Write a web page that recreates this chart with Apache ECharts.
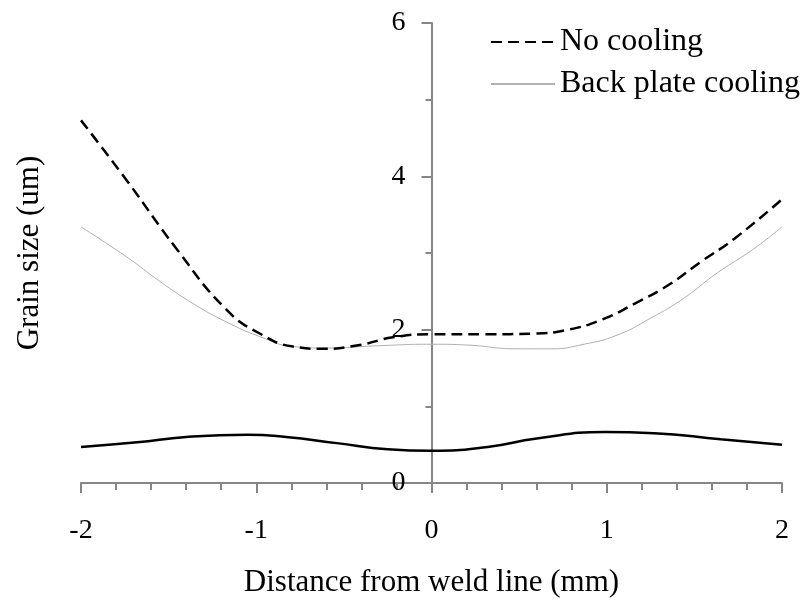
<!DOCTYPE html>
<html>
<head>
<meta charset="utf-8">
<script src="https://cdn.jsdelivr.net/npm/echarts@6/dist/echarts.min.js"></script>
<style>
  html, body { margin: 0; padding: 0; background: #fff; }
  #chart { width: 806px; height: 608px; }
</style>
</head>
<body>
<div id="chart"></div>
<script>
// Grain size profiles across the weld line
const xNoCooling = [-2, -1.74, -1.45, -1.17, -0.98, -0.79, -0.62, -0.41, -0.22, 0, 0.3, 0.59, 0.78, 0.97, 1.16, 1.35, 1.54, 1.73, 2];
const yNoCooling = [4.73, 3.95, 3.04, 2.26, 1.95, 1.78, 1.75, 1.80, 1.90, 1.94, 1.94, 1.95, 2.0, 2.13, 2.34, 2.58, 2.89, 3.19, 3.70];

const xBackPlate = [-2, -1.74, -1.55, -1.36, -1.17, -0.98, -0.79, -0.6, -0.31, 0, 0.2, 0.49, 0.68, 0.87, 1.06, 1.25, 1.44, 1.63, 1.83, 2];
const yBackPlate = [3.34, 2.95, 2.63, 2.34, 2.10, 1.91, 1.78, 1.76, 1.79, 1.81, 1.80, 1.75, 1.75, 1.81, 1.93, 2.15, 2.41, 2.74, 3.04, 3.34];

const xThird = [-2, -1.68, -1.4, -1.05, -0.83, -0.54, -0.25, 0, 0.32, 0.6, 0.99, 1.27, 1.65, 2];
const yThird = [0.47, 0.53, 0.60, 0.63, 0.60, 0.52, 0.44, 0.42, 0.47, 0.58, 0.665, 0.65, 0.57, 0.50];

const xTickLabels = ['-2', '-1', '0', '1', '2'];
const yTickLabels = ['0', '2', '4', '6'];

const pairs = (xs, ys) => xs.map((x, i) => [x, ys[i]]);

const FONT = '"Liberation Serif", "Times New Roman", serif';
const AXIS_GREY = '#868686';

const GRID_LEFT = 81;
const GRID_RIGHT = 24;
// the vertical axis sits at x = 0, halfway across the plot
const PLOT_W = 806 - GRID_LEFT - GRID_RIGHT;
const Y_AXIS_SHIFT = PLOT_W / 2;

const chart = echarts.init(document.getElementById('chart'), null, { renderer: 'canvas' });

const legendCommon = {
  left: 485,
  itemWidth: 64, itemHeight: 14, itemGap: 8,
  itemStyle: { opacity: 0 },
  textStyle: { fontFamily: FONT, fontSize: 32, color: '#000' }
};

chart.setOption({
  animation: false,
  backgroundColor: '#ffffff',
  grid: {
    left: GRID_LEFT, right: GRID_RIGHT, top: 23, bottom: 125,
    containLabel: false,
    outerBoundsMode: 'none'
  },
  legend: [
    Object.assign({ data: ['No cooling'], top: 21 }, legendCommon),
    Object.assign({ data: ['Back plate cooling'], top: 63 }, legendCommon)
  ],
  xAxis: {
    type: 'value',
    min: -2, max: 2, interval: 1,
    name: 'Distance from weld line (mm)',
    nameLocation: 'middle',
    nameGap: 84,
    nameTextStyle: { fontFamily: FONT, fontSize: 31, color: '#000' },
    axisLine: { onZero: false, lineStyle: { color: AXIS_GREY, width: 2 } },
    axisTick: { show: true, length: 10, lineStyle: { color: AXIS_GREY, width: 2 } },
    minorTick: { show: true, splitNumber: 5, length: 7, lineStyle: { color: AXIS_GREY, width: 2 } },
    axisLabel: {
      margin: 34,
      fontFamily: FONT, fontSize: 28, color: '#000',
      formatter: v => xTickLabels[Math.round(v + 2)] ?? ''
    },
    splitLine: { show: false },
    minorSplitLine: { show: false }
  },
  yAxis: {
    type: 'value',
    min: 0, max: 6, interval: 2,
    offset: -Y_AXIS_SHIFT,
    name: 'Grain size (um)',
    nameLocation: 'middle',
    nameGap: 386,
    nameRotate: 90,
    nameTextStyle: { fontFamily: FONT, fontSize: 31, color: '#000' },
    axisLine: { show: true, onZero: false, lineStyle: { color: AXIS_GREY, width: 2 } },
    axisTick: { show: true, length: 10, lineStyle: { color: AXIS_GREY, width: 2 } },
    minorTick: { show: true, splitNumber: 2, length: 6, lineStyle: { color: AXIS_GREY, width: 2 } },
    axisLabel: {
      margin: 26,
      fontFamily: FONT, fontSize: 28, color: '#000',
      formatter: v => yTickLabels[Math.round(v / 2)] ?? ''
    },
    splitLine: { show: false },
    minorSplitLine: { show: false }
  },
  series: [
    {
      name: 'No cooling',
      type: 'line',
      data: pairs(xNoCooling, yNoCooling),
      smooth: 0.5,
      symbol: 'none',
      lineStyle: { color: '#000', width: 2.5, type: [11, 6] },
      itemStyle: { color: '#000' },
      z: 3
    },
    {
      name: 'Back plate cooling',
      type: 'line',
      data: pairs(xBackPlate, yBackPlate),
      smooth: 0.5,
      symbol: 'none',
      lineStyle: { color: '#b0b0b0', width: 1 },
      itemStyle: { color: '#b0b0b0' },
      z: 2
    },
    {
      name: 'Third profile',
      type: 'line',
      data: pairs(xThird, yThird),
      smooth: 0.5,
      symbol: 'none',
      lineStyle: { color: '#000', width: 2.5 },
      itemStyle: { color: '#000' },
      z: 2
    }
  ]
});
</script>
</body>
</html>
